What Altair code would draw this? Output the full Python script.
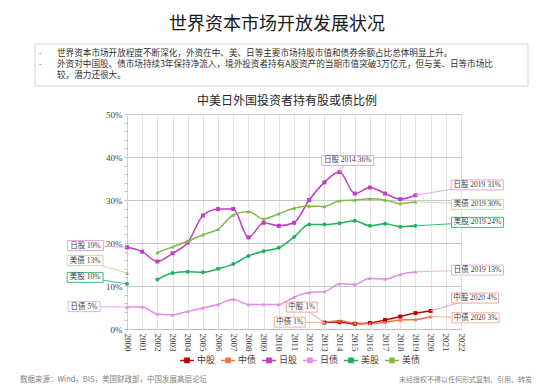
import altair as alt
import pandas as pd

# ---------------- data ----------------
series_names = ["中股", "中债", "日股", "日债", "美股", "美债"]
series_colors = ["#c00000", "#f4724f", "#c03cc0", "#e58be8", "#1fb15a", "#82b74b"]
box_colors = ["#f0a09c", "#f7ae98", "#e6a3e6", "#e7b0f0", "#3cbf78", "#c4dcaa"]
point_shapes = ["square", "triangle-up", "square", "triangle-up", "circle", "triangle-up"]

cn_years = [2013, 2014, 2015, 2016, 2017, 2018, 2019, 2020]
cn_stock = [1.5, 1.6, 1.2, 1.4, 2.1, 2.9, 3.7, 4.2]
cn_bond = [1.5, 1.9, 1.4, 1.3, 1.6, 2.1, 2.2, 2.9]

jp_years = list(range(2000, 2020))
jp_stock = [19.0, 18.0, 15.7, 17.6, 20.1, 26.4, 27.9, 27.9, 21.3, 24.7,
            24.0, 24.7, 30.0, 34.1, 36.5, 31.5, 32.9, 31.5, 30.2, 31.1]
jp_bond = [5.1, 5.1, 3.5, 3.3, 4.1, 4.9, 5.7, 6.9, 5.7, 5.7,
           5.7, 7.4, 8.5, 8.7, 10.5, 10.4, 11.8, 11.6, 12.7, 13.3]

us_years = [2000] + list(range(2002, 2020))
us_stock = [10.5, 11.5, 13.0, 13.3, 13.2, 14.0, 15.1, 17.0, 18.1, 18.9,
            21.4, 24.3, 24.3, 24.6, 25.2, 24.0, 24.5, 23.8, 24.0]
us_bond = [13.0, 17.8, 19.1, 20.4, 21.9, 23.2, 26.5, 27.3, 25.6, 26.8,
           28.1, 28.6, 28.5, 29.8, 30.0, 30.3, 30.0, 29.2, 29.6]

x_ticks = list(range(2000, 2023))
y_major = [0, 10, 20, 30, 40, 50]
y_minor = list(range(0, 51, 2))

# callouts: label, series, anchor (year, value), box centre (year, value)
ann_label = ["日股 19%", "美债 13%", "美股 10%", "日债 5%", "日股 2014 36%",
             "日股 2019 31%", "美债 2019 30%", "美股 2019 24%", "日债 2019 13%",
             "中股 2020 4%", "中债 2020 3%", "中股 1%", "中债 1%"]
ann_series = ["日股", "美债", "美股", "日债", "日股",
              "日股", "美债", "美股", "日债", "中股", "中债", "中股", "中债"]
ann_ax = [2000, 2000, 2000, 2000, 2014, 2019, 2019, 2019, 2019, 2020, 2020, 2013, 2013]
ann_ay = [19.0, 13.0, 10.5, 5.1, 36.5, 31.1, 29.6, 24.0, 13.3, 4.2, 2.9, 1.5, 1.5]
ann_bx = [1997.27, 1997.24, 1997.24, 1997.17, 2014.54,
          2023.07, 2023.09, 2023.09, 2023.09, 2022.93, 2022.96, 2011.51, 2010.72]
ann_by = [19.4, 15.9, 12.0, 5.2, 39.2, 33.5, 29.0, 24.8, 13.7, 7.2, 2.6, 5.1, 1.6]
ann_boxw = [36, 36, 36, 32, 52, 52, 52, 52, 52, 47, 47, 31, 31]

bullet_1 = "世界资本市场开放程度不断深化，外资在中、美、日等主要市场持股市值和债券余额占比总体明显上升。"
bullet_2a = "外资对中国股、债市场持续3年保持净流入，境外投资者持有A股资产的当期市值突破3万亿元，但与美、日等市场比"
bullet_2b = "较，潜力还很大。"

# ---------------- tables ----------------
rows = []
def add(name, yrs, vs, split=False):
    for y, v in zip(yrs, vs):
        seg = name + ("a" if (split and y < 2001) else "b")
        rows.append({"year": y, "value": v, "series": name, "seg": seg})

add("中股", cn_years, cn_stock)
add("中债", cn_years, cn_bond)
add("日股", jp_years, jp_stock)
add("日债", jp_years, jp_bond)
add("美股", us_years, us_stock, split=True)
add("美债", us_years, us_bond, split=True)
df = pd.DataFrame(rows)

ann = pd.DataFrame({"label": ann_label, "series": ann_series, "ax": ann_ax,
                    "ay": ann_ay, "bx": ann_bx, "by": ann_by})
box_paths = [f"M{-w/10:.2f},-1H{w/10:.2f}V1H{-w/10:.2f}Z" for w in ann_boxw]

serif = "'Liberation Serif', 'Noto Sans CJK SC'"
cjk = "'Noto Sans CJK SC'"

W, H = 334, 215
xs = alt.Scale(domain=[2000, 2022], nice=False, zero=False)
ys = alt.Scale(domain=[0, 50], nice=False)
color = alt.Color("series:N", scale=alt.Scale(domain=series_names, range=series_colors),
                  legend=alt.Legend(title=None, orient="none", direction="horizontal",
                                    legendX=52, legendY=238, labelFont=cjk, labelFontSize=9,
                                    labelColor="#404040",
                                    symbolType="M-1,0H1M-0.3,-0.3H0.3V0.3H-0.3Z",
                                    symbolSize=196, symbolStrokeWidth=1.5,
                                    labelOffset=2, columnPadding=2, columns=6))

x_axis = alt.Axis(values=x_ticks, format="d", labelAngle=90, labelAlign="left",
                  labelBaseline="middle", labelPadding=4, labelFont=serif,
                  labelFontSize=9, labelColor="#404040", ticks=False,
                  labelOverlap=False, grid=True, gridColor="#e2e2e2",
                  domainColor="#bfbfbf", title=None)
x_enc = alt.X("year:Q", scale=xs, axis=x_axis)
y_enc = alt.Y("value:Q", scale=ys,
              axis=alt.Axis(values=y_major, labelExpr="datum.value + '%'",
                            labelFont=serif, labelFontSize=9, labelColor="#404040",
                            labelPadding=5, labelOverlap=False, ticks=False,
                            gridColor="#c8c8c8", domainColor="#d0d0d0", title=None))
y_minor_enc = alt.Y("value:Q", scale=ys,
                    axis=alt.Axis(values=y_minor, labels=False, grid=False, domain=False,
                                  tickSize=3, tickColor="#c0c0c0", orient="left", title=None))

lines = alt.Chart(df).mark_line(interpolate="monotone", strokeWidth=1.5).encode(
    x=x_enc, y=y_enc, color=color, detail="seg:N")
points = alt.Chart(df).mark_point(filled=True, size=16, opacity=1).encode(
    x=alt.X("year:Q", scale=xs, axis=x_axis), y=y_minor_enc,
    color=alt.Color("series:N", scale=alt.Scale(domain=series_names, range=series_colors), legend=None),
    shape=alt.Shape("series:N", scale=alt.Scale(domain=series_names, range=point_shapes), legend=None))

stroke_scale = alt.Scale(domain=series_names, range=box_colors)
leaders = alt.Chart(ann).mark_rule(strokeWidth=1).encode(
    x=alt.X("ax:Q", scale=xs, axis=x_axis), y=alt.Y("ay:Q", scale=ys, axis=None),
    x2="bx:Q", y2="by:Q",
    stroke=alt.Stroke("series:N", scale=stroke_scale, legend=None))
boxes = alt.Chart(ann).mark_point(filled=False, fill="white", fillOpacity=1, size=100,
                                  strokeWidth=1, opacity=1).encode(
    x=alt.X("bx:Q", scale=xs, axis=x_axis), y=alt.Y("by:Q", scale=ys, axis=None),
    stroke=alt.Stroke("series:N", scale=stroke_scale, legend=None),
    shape=alt.Shape("label:N", scale=alt.Scale(domain=ann_label, range=box_paths), legend=None))
box_text = alt.Chart(ann).mark_text(font=serif, fontSize=7.5, color="#404040",
                                    baseline="middle", align="center").encode(
    x=alt.X("bx:Q", scale=xs, axis=x_axis), y=alt.Y("by:Q", scale=ys, axis=None), text="label:N")

one = pd.DataFrame({"a": [0]})
def label(txt, x, y, size, color="#303030", align="left", font=cjk, weight="normal"):
    return alt.Chart(one).mark_text(text=txt, fontSize=size, color=color, align=align,
                                    baseline="middle", font=font, fontWeight=weight).encode(
        x=alt.value(x), y=alt.value(y))

frame = alt.Chart(one).mark_rect(fill="white", stroke="#d4d4d4", strokeWidth=1).encode(
    x=alt.value(-92), x2=alt.value(401), y=alt.value(-70), y2=alt.value(-28))

chart = alt.layer(
    frame,
    label("世界资本市场开放发展状况", 150, -89, 18, color="#1a1a1a", align="center"),
    label("-", -88, -61, 7),
    label(bullet_1, -70, -61, 8.6),
    label("-", -88, -50, 7),
    label(bullet_2a, -70, -50, 8.6),
    label(bullet_2b, -70, -39, 8.6),
    label("中美日外国投资者持有股或债比例", 160, -13, 12, color="#262626", align="center"),
    lines, points, leaders, boxes, box_text,
    label("数据来源：Wind，BIS，美国财政部，中国发展高层论坛", -107, 266, 7.5, color="#808080"),
    label("未经授权不得以任何形式复制、引用、转发", 272, 266, 7, color="#808080"),
).resolve_scale(shape="independent").resolve_axis(y="independent").properties(
    width=W, height=H,
    padding={"left": 119, "top": 106, "right": 86, "bottom": 58},
    autosize=alt.AutoSizeParams(type="none"),
).configure_view(stroke=None).configure(background="white")

chart.save("out.html", embed_options={"renderer": "svg", "actions": False})
